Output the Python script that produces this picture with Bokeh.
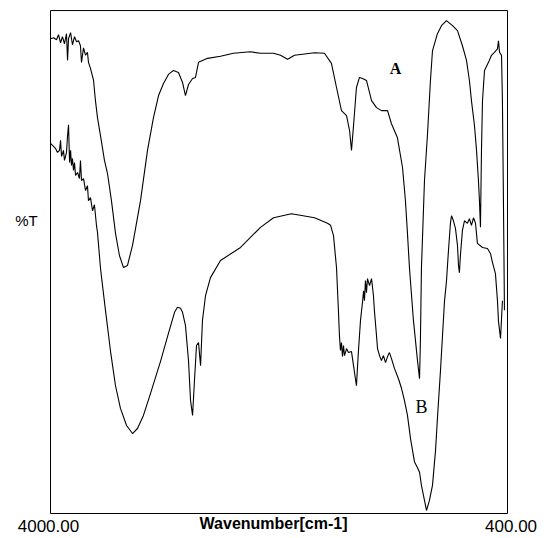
from bokeh.plotting import figure
from bokeh.models import Range1d, Label
from bokeh.embed import file_html
from bokeh.resources import INLINE

# Spectrum A (upper trace): wavenumber (cm-1) vs %T
a_wavenumber = [4000, 3976, 3953, 3937, 3921, 3906, 3890, 3874, 3866, 3858, 3842, 3827, 3811, 3795,
                3779, 3764, 3756, 3740, 3724, 3709, 3701, 3685, 3661, 3646, 3630, 3606, 3575, 3551,
                3520, 3488, 3457, 3425, 3394, 3354, 3291, 3236, 3189, 3149, 3110, 3071, 3031, 2992,
                2960, 2937, 2913, 2881, 2858, 2834, 2763, 2661, 2559, 2425, 2346, 2243, 2188, 2133,
                2078, 1920, 1842, 1787, 1747, 1708, 1668, 1644, 1629, 1613, 1590, 1566, 1542, 1511,
                1471, 1432, 1393, 1345, 1314, 1267, 1227, 1204, 1188, 1172, 1141, 1109, 1093, 1086,
                1078, 1054, 1030, 1007, 991, 952, 920, 881, 833, 794, 755, 723, 700, 684, 660, 644,
                629, 621, 613, 605, 597, 581, 550, 526, 503, 479, 471, 463, 447, 440, 432, 424]
a_transmittance = [94.4, 94.6, 94.2, 95.2, 93.6, 94.8, 93.4, 95.4, 90.1, 94.4, 95.6, 93.2, 94.8, 93.8,
                   94.0, 93.0, 89.7, 92.6, 91.1, 91.7, 89.7, 88.5, 86.1, 82.1, 78.7, 75.1, 70.2, 67.6,
                   62.2, 55.7, 51.3, 48.9, 49.3, 53.3, 62.2, 72.2, 78.7, 83.1, 85.5, 87.3, 88.1, 87.7,
                   85.7, 83.1, 85.3, 86.5, 86.7, 89.7, 90.5, 90.9, 91.5, 91.8, 91.5, 91.5, 91.1, 90.3,
                   91.1, 91.6, 91.5, 89.5, 84.7, 80.1, 79.1, 76.1, 72.2, 77.1, 84.7, 86.7, 86.5, 86.1,
                   82.1, 80.7, 80.1, 80.1, 77.5, 74.7, 68.8, 62.2, 55.7, 48.7, 38.4, 30.4, 26.8, 34.4,
                   48.7, 66.2, 75.5, 86.1, 92.0, 95.4, 97.0, 98.0, 97.0, 96.0, 93.0, 90.1, 86.1, 82.1,
                   77.1, 72.2, 66.2, 62.2, 56.9, 72.2, 82.1, 88.1, 89.7, 91.1, 91.7, 92.4, 94.0, 91.7,
                   91.1, 82.1, 62.2, 40.4]

# Spectrum B (lower trace)
b_wavenumber = [4000, 3984, 3961, 3945, 3929, 3921, 3913, 3898, 3890, 3874, 3866, 3858, 3850, 3842,
                3835, 3827, 3819, 3811, 3803, 3787, 3772, 3764, 3756, 3740, 3724, 3709, 3701, 3685,
                3669, 3654, 3638, 3630, 3606, 3567, 3527, 3488, 3449, 3401, 3354, 3315, 3268, 3212,
                3134, 3071, 3023, 3000, 2976, 2960, 2937, 2913, 2897, 2881, 2866, 2850, 2834, 2818,
                2803, 2779, 2740, 2661, 2503, 2346, 2243, 2102, 1920, 1818, 1794, 1771, 1747, 1732,
                1724, 1716, 1708, 1700, 1692, 1684, 1668, 1653, 1629, 1613, 1590, 1574, 1558, 1542,
                1534, 1527, 1519, 1511, 1503, 1487, 1471, 1456, 1448, 1432, 1424, 1408, 1393, 1377,
                1361, 1345, 1330, 1314, 1290, 1259, 1235, 1212, 1188, 1164, 1133, 1109, 1093, 1078,
                1054, 1038, 1015, 991, 967, 952, 928, 912, 896, 881, 865, 849, 841, 826, 810, 794,
                786, 779, 771, 755, 739, 716, 700, 684, 668, 652, 637, 597, 558, 534, 518, 495, 479,
                471, 455, 440]
b_transmittance = [73.6, 73.2, 72.6, 71.8, 72.2, 74.2, 71.0, 72.2, 70.2, 71.8, 75.1, 77.3, 69.8, 72.2,
                   69.2, 70.6, 68.2, 69.8, 67.2, 67.8, 66.6, 70.2, 66.2, 66.6, 64.2, 65.2, 62.2, 62.8,
                   60.2, 61.4, 57.3, 55.9, 48.7, 40.4, 32.2, 25.4, 20.9, 17.5, 15.9, 16.9, 19.5, 23.9,
                   30.2, 35.8, 40.0, 41.0, 40.8, 40.0, 37.4, 30.4, 22.5, 19.5, 26.4, 33.4, 34.0, 29.4,
                   38.4, 43.3, 46.9, 50.3, 52.9, 56.9, 58.8, 59.6, 58.8, 57.7, 57.3, 55.3, 48.9, 40.4,
                   35.4, 32.4, 34.0, 31.2, 33.4, 31.4, 32.8, 32.0, 32.2, 29.4, 25.4, 32.4, 38.4, 42.1,
                   44.3, 42.3, 46.3, 43.9, 46.7, 45.3, 46.7, 43.3, 40.2, 35.4, 32.8, 31.4, 30.4, 31.4,
                   30.0, 31.2, 32.0, 30.8, 28.8, 26.8, 24.9, 22.5, 19.5, 14.9, 10.3, 9.1, 8.2, 5.6,
                   2.6, 0.6, 2.6, 5.6, 12.5, 18.9, 28.4, 35.4, 42.3, 46.1, 52.3, 57.9, 59.2, 58.2, 56.7, 53.3,
                   49.3, 47.9, 51.3, 56.3, 58.2, 57.7, 58.6, 57.3, 58.8, 57.7, 53.7, 52.9, 52.7, 51.7, 49.9, 47.7, 42.3,
                   38.2, 34.8, 42.3]

x_tick_values = [4000, 400]
x_tick_labels = ["4000.00", "400.00"]
y_limits = [0, 100]
x_axis_title = "Wavenumber[cm-1]"
y_axis_title = "%T"
series_names = ["A", "B"]

# Range covers the whole canvas so that the annotation texts around the box stay visible
p = figure(width=548, height=538, output_backend="svg", toolbar_location=None,
           x_range=Range1d(4394, 77), y_range=Range1d(-4.97, 102.0),
           min_border_left=0, min_border_right=0, min_border_top=0, min_border_bottom=0)
p.axis.visible = False
p.grid.visible = False
p.outline_line_color = None
p.background_fill_color = "white"
p.border_fill_color = "white"

# chart box
x0, x1 = x_tick_values
y0, y1 = y_limits
p.line([x0, x1, x1, x0, x0], [y1, y1, y0, y0, y1], line_color="black", line_width=1)

p.line(a_wavenumber, a_transmittance, line_color="black", line_width=1.1)
p.line(b_wavenumber, b_transmittance, line_color="black", line_width=1.1)

p.add_layout(Label(x=1282, y=88.5, text=series_names[0], text_font="Liberation Serif",
                   text_font_style="bold", text_font_size="16px", text_align="center",
                   text_baseline="middle", text_color="black"))
p.add_layout(Label(x=1078, y=21.1, text=series_names[1], text_font="Liberation Serif",
                   text_font_size="18px", text_align="center", text_baseline="middle",
                   text_color="black"))
p.add_layout(Label(x=4189, y=58.2, text=y_axis_title, text_font="Liberation Sans",
                   text_font_size="15px", text_align="center", text_baseline="middle",
                   text_color="black"))
p.add_layout(Label(x=4016, y=-2.5, text=x_tick_labels[0], text_font="Liberation Sans",
                   text_font_size="17px", text_align="center", text_baseline="middle",
                   text_color="black"))
p.add_layout(Label(x=372, y=-2.4, text=x_tick_labels[1], text_font="Liberation Sans",
                   text_font_size="17px", text_align="center", text_baseline="middle",
                   text_color="black"))
p.add_layout(Label(x=2243, y=-1.9, text=x_axis_title, text_font="Liberation Sans",
                   text_font_style="bold", text_font_size="16px", text_align="center",
                   text_baseline="middle", text_color="black"))

open("out.html", "w").write(file_html(p, INLINE))
